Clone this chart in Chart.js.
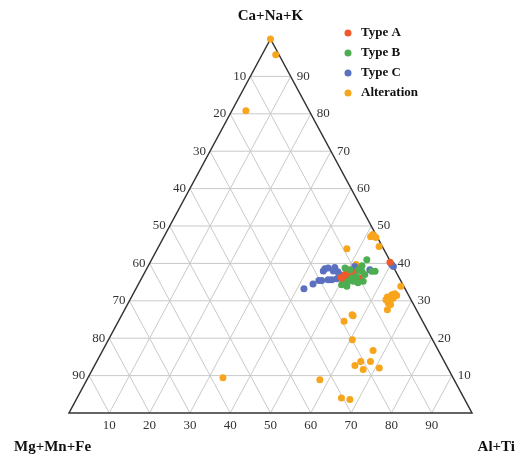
<!DOCTYPE html>
<html>
<head>
<meta charset="utf-8">
<script src="https://cdn.jsdelivr.net/npm/chart.js@4.4.1/dist/chart.umd.min.js"></script>
<style>
  html, body { margin: 0; padding: 0; background: #fff; }
  #wrap { width: 519px; height: 455px; }
</style>
</head>
<body>
<div id="wrap"><canvas id="ternary"></canvas></div>
<script>
// ternary data: Al+Ti and Ca+Na+K in %, Mg+Mn+Fe is the rest
const seriesNames = ['Type A', 'Type B', 'Type C', 'Alteration'];
const seriesColors = ['#ee5a2c', '#4cae50', '#5b70bf', '#f7a51c'];

const typeA_alTi  = [50.0, 50.4, 50.6, 50.8, 49.8, 52.2, 54.1, 59.5, 50.0, 49.4, 51.2];
const typeA_caNaK = [37.0, 35.2, 37.4, 36.1, 38.3, 37.4, 36.1, 40.3, 36.4, 36.2, 36.7];

const typeB_alTi  = [53.4, 50.6, 52.7, 53.1, 53.7, 52.9, 55.4, 52.0, 56.2, 57.0, 52.1, 50.5, 49.1, 54.9, 53.0, 54.3, 51.6];
const typeB_caNaK = [41.0, 38.3, 38.3, 36.5, 37.9, 35.2, 35.2, 33.9, 37.9, 37.9, 36.1, 34.3, 38.8, 37.0, 39.4, 34.8, 35.1];

const typeC_alTi  = [41.7, 43.3, 44.3, 45.0, 44.1, 44.2, 44.9, 46.6, 46.5, 46.5, 47.4, 48.5, 48.7, 51.3, 55.5, 60.2, 60.9, 47.8];
const typeC_caNaK = [33.2, 34.5, 35.4, 35.4, 38.0, 38.6, 38.8, 38.0, 38.9, 35.6, 35.6, 35.9, 37.0, 39.2, 38.3, 39.7, 39.2, 37.8];

const alt_alTi  = [0, 3.4, 3.5, 51.3, 51.5, 52.0, 52.7, 54.7, 47.0, 65.4, 63.5, 64.3, 64.9, 65.6, 65.1, 64.6, 64.5, 65.3, 65.2, 63.5,
                   57.1, 57.5, 56.0, 60.5, 67.1, 65.5, 64.6, 67.9, 67.2, 71.0, 33.5, 57.8, 65.6, 67.9, 51.4];
const alt_caNaK = [100, 95.8, 80.8, 47.1, 47.7, 47.4, 46.9, 44.5, 43.9, 33.9, 31.0, 31.6, 31.9, 31.4, 30.7, 30.1, 29.4, 29.0, 27.6, 30.3,
                   26.3, 26.0, 24.5, 19.6, 16.7, 13.8, 12.7, 13.8, 11.6, 12.0, 9.4, 8.9, 4.0, 3.6, 39.7];

const gridTicks = [10, 20, 30, 40, 50, 60, 70, 80, 90];
const apexLabels = ['Ca+Na+K', 'Mg+Mn+Fe', 'Al+Ti'];

// ternary -> cartesian (x 0..100, y 0..100)
function toXY(al, ca) {
    return al.map((a, i) => ({ x: a + ca[i] / 2, y: ca[i] }));
}

const serif = '"Liberation Serif", "Times New Roman", serif';

const ternaryFrame = {
    id: 'ternaryFrame',
    beforeDatasetsDraw(chart) {
        const ctx = chart.ctx;
        const sx = chart.scales.x, sy = chart.scales.y;
        const P = (al, ca) => [sx.getPixelForValue(al + ca / 2), sy.getPixelForValue(ca)];
        const line = (a, b) => { ctx.beginPath(); ctx.moveTo(a[0], a[1]); ctx.lineTo(b[0], b[1]); ctx.stroke(); };

        ctx.save();
        ctx.strokeStyle = '#c9c9c9';
        ctx.lineWidth = 1;
        gridTicks.forEach(v => {
            line(P(0, v), P(100 - v, v));        // const Ca+Na+K
            line(P(v, 0), P(v, 100 - v));        // const Al+Ti
            line(P(100 - v, 0), P(0, 100 - v));  // const Mg+Mn+Fe
        });

        ctx.strokeStyle = '#333';
        ctx.lineWidth = 1.5;
        ctx.beginPath();
        const t = P(0, 100), l = P(0, 0), r = P(100, 0);
        ctx.moveTo(t[0], t[1]); ctx.lineTo(l[0], l[1]); ctx.lineTo(r[0], r[1]); ctx.closePath();
        ctx.stroke();

        ctx.fillStyle = '#333';
        ctx.font = '13px ' + serif;
        ctx.textBaseline = 'middle';
        gridTicks.forEach(v => {
            const pl = P(0, v);
            ctx.textAlign = 'right';
            ctx.fillText(String(100 - v), pl[0] - 4, pl[1]);
            const pr = P(100 - v, v);
            ctx.textAlign = 'left';
            ctx.fillText(String(v), pr[0] + 6, pr[1]);
            const pb = P(v, 0);
            ctx.textAlign = 'center';
            ctx.fillText(String(v), pb[0], pb[1] + 13);
        });

        ctx.fillStyle = '#111';
        ctx.font = 'bold 15px ' + serif;
        ctx.textAlign = 'center';
        ctx.fillText(apexLabels[0], t[0], 16);
        ctx.textAlign = 'left';
        ctx.fillText(apexLabels[1], 14, 447);
        ctx.textAlign = 'right';
        ctx.fillText(apexLabels[2], 515, 447);

        // legend
        ctx.font = 'bold 13px ' + serif;
        ctx.textAlign = 'left';
        seriesNames.forEach((name, i) => {
            const y = 33 + i * 20;
            ctx.fillStyle = seriesColors[i];
            ctx.beginPath(); ctx.arc(348, y, 3.5, 0, Math.PI * 2); ctx.fill();
            ctx.fillStyle = '#111';
            ctx.fillText(name, 361, y);
        });
        ctx.restore();
    }
};

const pts = [toXY(typeA_alTi, typeA_caNaK), toXY(typeB_alTi, typeB_caNaK),
             toXY(typeC_alTi, typeC_caNaK), toXY(alt_alTi, alt_caNaK)];
const drawOrder = [2, 1, 3, 4];

new Chart(document.getElementById('ternary'), {
    type: 'scatter',
    data: {
        datasets: seriesNames.map((name, i) => ({
            label: name,
            data: pts[i],
            backgroundColor: seriesColors[i],
            borderColor: seriesColors[i],
            borderWidth: 0,
            pointRadius: 3.5,
            clip: false,
            order: drawOrder[i]
        }))
    },
    options: {
        responsive: true,
        maintainAspectRatio: false,
        animation: false,
        layout: { padding: { left: 69, right: 47, top: 39, bottom: 42 } },
        scales: {
            x: { type: 'linear', min: 0, max: 100, display: false },
            y: { type: 'linear', min: 0, max: 100, display: false }
        },
        plugins: { legend: { display: false }, tooltip: { enabled: false } }
    },
    plugins: [ternaryFrame]
});
</script>
</body>
</html>
